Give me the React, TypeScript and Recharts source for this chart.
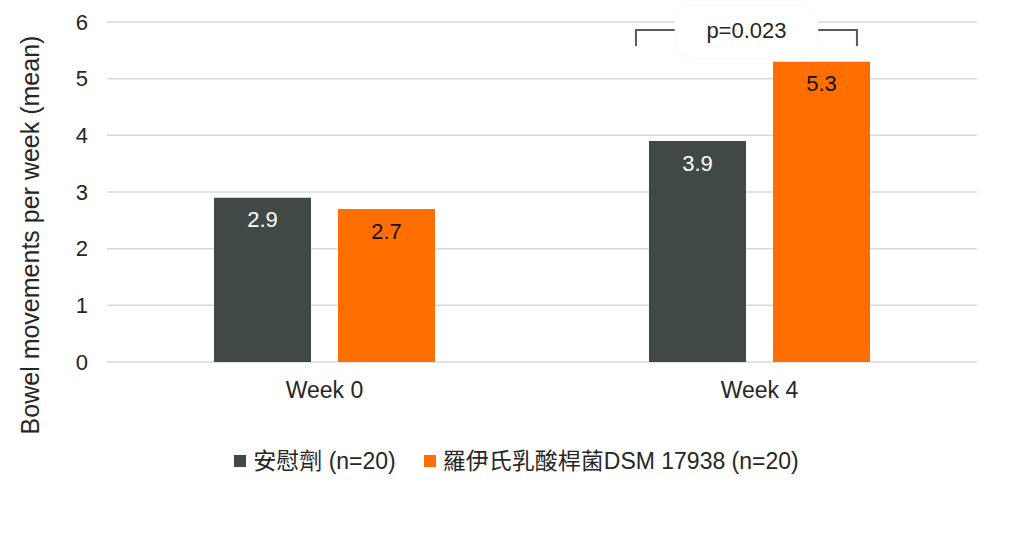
import React from 'react';
import {
  BarChart,
  Bar,
  XAxis,
  YAxis,
  CartesianGrid,
  Legend,
  LabelList,
  ReferenceLine,
} from 'recharts';

// categories and series values
const categories = ['Week 0', 'Week 4'];
const placeboValues = [2.9, 3.9];
const reuteriValues = [2.7, 5.3];
const yTicks = [0, 1, 2, 3, 4, 5, 6];
const seriesNames = ['安慰劑 (n=20)', '羅伊氏乳酸桿菌DSM 17938 (n=20)'];
const pValueText = 'p=0.023';
const bracketY = 5.86;

const DARK = '#414947';
const ORANGE = '#FF6E00';
const TEXT = '#262626';
const FONT = '"Liberation Sans", Arial, "Noto Sans CJK TC", sans-serif';

const data = categories.map((week, i) => ({
  week,
  placebo: placeboValues[i],
  reuteri: reuteriValues[i],
}));

const YLabel = (props: any) => {
  const vb = props.viewBox || { x: 0, y: 0, height: 0 };
  const x = vb.x + 39;
  const y = vb.y + vb.height / 2 + 43;
  return (
    <text
      x={x}
      y={y}
      transform={`rotate(-90, ${x}, ${y})`}
      textAnchor="middle"
      fill={TEXT}
      fontSize={25}
      fontFamily={FONT}
    >
      Bowel movements per week (mean)
    </text>
  );
};

// bracket drawn relative to the plot width, at the reference line's y
const Bracket = (props: any) => {
  const vb = props.viewBox || { x: 0, y: 0, width: 0 };
  const px = (f: number) => vb.x + vb.width * f;
  const y = vb.y;
  const l = px(0.608);
  const r = px(0.862);
  const bl = px(0.653);
  const br = px(0.817);
  const c = '#595959';
  return (
    <g>
      <path d={`M${l},${y + 16} L${l},${y} L${bl},${y}`} fill="none" stroke={c} strokeWidth={2} />
      <path d={`M${br},${y} L${r},${y} L${r},${y + 16}`} fill="none" stroke={c} strokeWidth={2} />
      <rect x={bl} y={y - 25} width={br - bl} height={54} rx={16} fill="#fff" stroke="#f8f8f8" />
      <text x={(bl + br) / 2} y={y + 8} textAnchor="middle" fill={TEXT} fontSize={22} fontFamily={FONT}>
        {pValueText}
      </text>
    </g>
  );
};

const LegendContent = () => {
  const colors = [DARK, ORANGE];
  return (
    <div
      style={{
        display: 'flex',
        justifyContent: 'center',
        alignItems: 'center',
        fontFamily: FONT,
        fontSize: 23,
        color: TEXT,
        lineHeight: '26px',
        paddingLeft: 9,
      }}
    >
      {seriesNames.map((name, i) => (
        <div key={name} style={{ display: 'flex', alignItems: 'center', marginRight: i === 0 ? 28 : 0 }}>
          <span style={{ width: 12, height: 12, background: colors[i], marginRight: 7, display: 'inline-block' }} />
          <span>{name}</span>
        </div>
      ))}
    </div>
  );
};

export default function App() {
  return (
    <div style={{ position: 'absolute', left: 0, top: 0, width: 1024, height: 536, background: '#fff' }}>
      <BarChart
        width={1024}
        height={536}
        data={data}
        margin={{ top: 22, right: 47, left: 0, bottom: 144 }}
        barSize={97}
        barGap={27}
        style={{ fontFamily: FONT }}
      >
        <CartesianGrid vertical={false} stroke="#d9d9d9" strokeWidth={1.5} />
        <XAxis
          dataKey="week"
          tickLine={false}
          axisLine={false}
          tickSize={0}
          tickMargin={20}
          height={30}
          tick={{ fill: TEXT, fontSize: 23, fontFamily: FONT }}
        />
        <YAxis
          width={107}
          domain={[0, 6]}
          ticks={yTicks}
          tickLine={false}
          axisLine={false}
          tickSize={0}
          tickMargin={19}
          tick={{ fill: TEXT, fontSize: 22, fontFamily: FONT }}
          label={<YLabel />}
        />
        <Legend
          verticalAlign="middle"
          align="center"
          wrapperStyle={{ top: 448, left: 0, width: 1024 }}
          content={<LegendContent />}
        />
        <Bar dataKey="placebo" name={seriesNames[0]} fill={DARK} isAnimationActive={false}>
          <LabelList dataKey="placebo" position="insideTop" offset={14} fill="#ffffff" fontSize={22} fontFamily={FONT} />
        </Bar>
        <Bar dataKey="reuteri" name={seriesNames[1]} fill={ORANGE} isAnimationActive={false}>
          <LabelList dataKey="reuteri" position="insideTop" offset={14} fill="#111111" fontSize={22} fontFamily={FONT} />
        </Bar>
        <ReferenceLine y={bracketY} stroke="none" label={<Bracket />} />
      </BarChart>
    </div>
  );
}
